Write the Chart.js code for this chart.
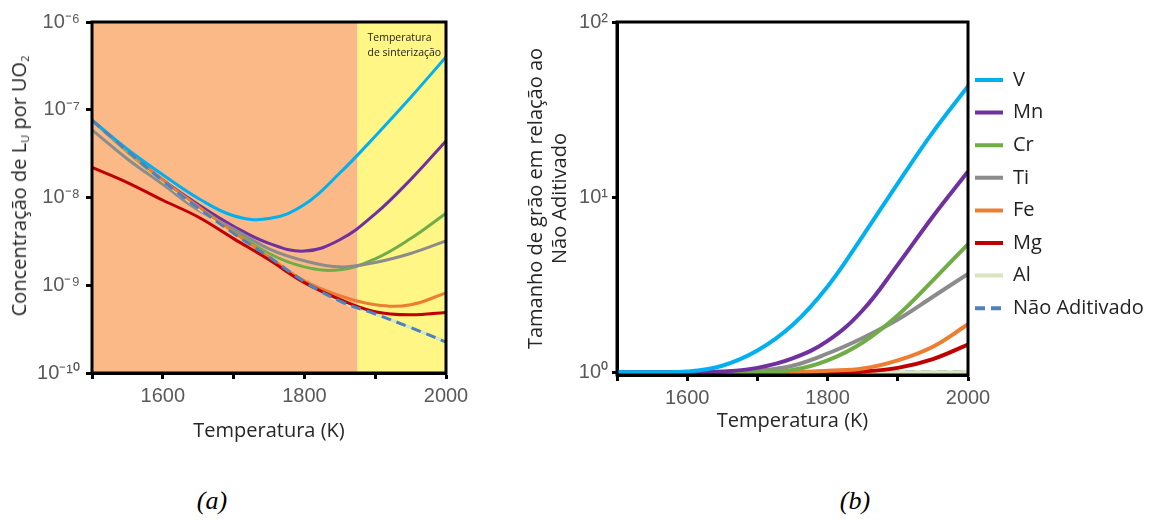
<!DOCTYPE html>
<html><head><meta charset="utf-8">
<script src="https://cdn.jsdelivr.net/npm/chart.js@4.4.0/dist/chart.umd.min.js"></script>
<style>
html,body{margin:0;padding:0;background:#fff;width:1155px;height:520px;overflow:hidden;position:relative;}
#ca{position:absolute;left:0;top:0;}
#cb{position:absolute;left:490px;top:0;}
.ytitle{position:absolute;left:22px;top:186px;transform:translate(-50%,-50%) rotate(-90deg);white-space:nowrap;font:20px "Open Sans";color:#262626;line-height:24px;}
.ytitle sub{font-size:11px;vertical-align:-3px;}
.cap{position:absolute;top:486px;font:italic 26px "Liberation Serif";color:#000;transform:translateX(-50%);}
</style></head><body>
<canvas id="ca" width="476" height="460"></canvas>
<canvas id="cb" width="665" height="460"></canvas>
<div class="ytitle">Concentração de L<sub>U</sub> por UO<sub>2</sub></div>
<div class="cap" style="left:212px">(a)</div>
<div class="cap" style="left:855px">(b)</div>
<script>
// ---------------- DATA ----------------
const temperatures = [1500, 1550, 1600, 1650, 1700, 1750, 1800, 1850, 1900, 1950, 2000];
const sinteringStart = 1875;
const sinteringLabel = ['Temperatura', 'de sinterização'];

const xTickValues = [1500, 1600, 1700, 1800, 1900, 2000];
const xTickLabels = ['', '1600', '', '1800', '', '2000'];
const yTickValuesA = [1e-10, 1e-9, 1e-8, 1e-7, 1e-6];
const yTickLabelsA = ['10⁻¹⁰', '10⁻⁹', '10⁻⁸', '10⁻⁷', '10⁻⁶'];
const yTickValuesB = [1, 10, 100];
const yTickLabelsB = ['10⁰', '10¹', '10²'];

const seriesNames = ['V', 'Mn', 'Cr', 'Ti', 'Fe', 'Mg', 'Al', 'Não Aditivado'];

// (a) Concentração de L_U por UO2
const luV  = [7.6e-8, 3.55e-8, 1.82e-8, 9.8e-9, 6.2e-9, 5.75e-9, 8.3e-9, 1.9e-8, 5.0e-8, 1.38e-7, 4.0e-7];
const luMn = [7.6e-8, 3.4e-8, 1.58e-8, 8.3e-9, 4.7e-9, 3.0e-9, 2.45e-9, 3.3e-9, 6.5e-9, 1.6e-8, 4.4e-8];
const luCr = [7.6e-8, 3.3e-8, 1.55e-8, 7.8e-9, 4.2e-9, 2.3e-9, 1.62e-9, 1.5e-9, 2.0e-9, 3.4e-9, 6.6e-9];
const luTi = [5.9e-8, 2.75e-8, 1.41e-8, 7.2e-9, 4.4e-9, 2.6e-9, 1.9e-9, 1.62e-9, 1.82e-9, 2.3e-9, 3.2e-9];
const luFe = [7.6e-8, 3.4e-8, 1.58e-8, 7.9e-9, 4.0e-9, 2.1e-9, 1.12e-9, 7.6e-10, 6.0e-10, 6.0e-10, 8.2e-10];
const luMg = [2.2e-8, 1.48e-8, 9.3e-9, 6.0e-9, 3.4e-9, 1.95e-9, 1.07e-9, 6.9e-10, 5.0e-10, 4.6e-10, 4.9e-10];
const luAl = [7.6e-8, 3.4e-8, 1.55e-8, 7.6e-9, 3.9e-9, 2.1e-9, 1.1e-9, 6.6e-10, 4.7e-10, 3.3e-10, 2.25e-10];
const luNA = [7.6e-8, 3.4e-8, 1.55e-8, 7.6e-9, 3.9e-9, 2.1e-9, 1.1e-9, 6.6e-10, 4.7e-10, 3.3e-10, 2.25e-10];

// (b) Tamanho de grão em relação ao Não Aditivado
const grainV  = [1.0, 1.0, 1.01, 1.09, 1.33, 1.86, 3.09, 6.0, 12.0, 23.5, 43];
const grainMn = [1.0, 1.0, 1.0, 1.01, 1.06, 1.2, 1.51, 2.26, 4.12, 7.76, 14];
const grainCr = [1.0, 1.0, 1.0, 1.0, 1.0, 1.03, 1.17, 1.48, 2.12, 3.35, 5.4];
const grainTi = [1.0, 1.0, 1.0, 1.0, 1.02, 1.09, 1.28, 1.57, 2.0, 2.7, 3.65];
const grainFe = [1.0, 1.0, 1.0, 1.0, 1.0, 1.0, 1.02, 1.05, 1.17, 1.4, 1.88];
const grainMg = [1.0, 1.0, 1.0, 1.0, 1.0, 1.0, 1.0, 1.01, 1.06, 1.19, 1.44];
const grainAl = [1.0, 1.0, 1.0, 1.0, 1.0, 1.0, 1.0, 1.0, 1.0, 1.0, 1.0];
const grainNA = [1.0, 1.0, 1.0, 1.0, 1.0, 1.0, 1.0, 1.0, 1.0, 1.0, 1.0];

// ---------------- STYLE ----------------
const COLORS = { V:'#00B0F0', Mn:'#7030A0', Cr:'#70AD47', Ti:'#8C8C8C', Fe:'#ED7D31', Mg:'#C00000', Al:'#D7E4BD', NA:'#4F81BD' };
const TICK_FONT = { family: 'Liberation Sans', size: 20 };
const TITLE_FONT = { family: 'Open Sans', size: 20, lineHeight: 1.2 };
const TICK_COLOR = '#595959';
const TEXT_COLOR = '#262626';

const toXY = arr => temperatures.map((t, i) => ({ x: t, y: arr[i] }));
function ds(label, arr, color, width, dash) {
  return {
    label, data: toXY(arr), borderColor: color, backgroundColor: color,
    borderWidth: width, borderDash: dash || [], pointRadius: 0, pointHoverRadius: 0,
    tension: 0.4, fill: false
  };
}

function xScale(titlePadBottom, boxHeight) {
  return {
    type: 'linear', min: 1500, max: 2000,
    afterBuildTicks: s => { s.ticks = xTickValues.map(v => ({ value: v })); },
    afterFit: s => { s.height = boxHeight; },
    ticks: { callback: (v, i) => xTickLabels[i], font: TICK_FONT, color: TICK_COLOR, padding: 5, autoSkip: false, maxRotation: 0 },
    grid: { drawOnChartArea: false, drawTicks: true, tickLength: 6, tickWidth: 3, tickColor: '#000' },
    border: { display: true, color: '#000', width: 3 },
    title: { display: true, text: 'Temperatura (K)', font: TITLE_FONT, color: TEXT_COLOR, padding: { top: 0, bottom: titlePadBottom } }
  };
}

const framePlugin = {
  id: 'frame',
  afterDraw(chart) {
    const { ctx, chartArea: a } = chart;
    ctx.save();
    ctx.strokeStyle = '#000';
    ctx.lineWidth = 3;
    ctx.strokeRect(a.left, a.top, a.right - a.left, a.bottom - a.top);
    ctx.restore();
  }
};

const zonesPlugin = {
  id: 'zones',
  beforeDatasetsDraw(chart) {
    const { ctx, chartArea: a, scales: { x } } = chart;
    const xs = x.getPixelForValue(sinteringStart);
    ctx.save();
    ctx.fillStyle = '#FAB987';
    ctx.fillRect(a.left, a.top, xs - a.left, a.bottom - a.top);
    ctx.fillStyle = '#FFF685';
    ctx.fillRect(xs, a.top, a.right - xs, a.bottom - a.top);
    ctx.fillStyle = '#222';
    ctx.font = '10.5px "Open Sans"';
    ctx.textBaseline = 'alphabetic';
    sinteringLabel.forEach((t, i) => ctx.fillText(t, xs + 10, a.top + 19 + i * 15));
    ctx.restore();
  }
};

// ---------------- CHART (a) ----------------
new Chart(document.getElementById('ca'), {
  type: 'line',
  data: {
    datasets: [
      ds('Não Aditivado', luNA, COLORS.NA, 3, [10, 6]),
      ds('V', luV, COLORS.V, 3),
      ds('Mg', luMg, COLORS.Mg, 3),
      ds('Fe', luFe, COLORS.Fe, 3),
      ds('Al', luAl, COLORS.Al, 3),
      ds('Ti', luTi, COLORS.Ti, 3),
      ds('Cr', luCr, COLORS.Cr, 3),
      ds('Mn', luMn, COLORS.Mn, 3)
    ]
  },
  options: {
    responsive: false, animation: false, events: [],
    layout: { padding: { top: 22, right: 30, bottom: 0, left: 0 } },
    plugins: { legend: { display: false }, tooltip: { enabled: false } },
    scales: {
      x: xScale(17, 87),
      y: {
        type: 'logarithmic', min: 1e-10, max: 1e-6,
        afterBuildTicks: s => { s.ticks = yTickValuesA.map(v => ({ value: v })); },
        afterFit: s => { s.width = 92; },
        ticks: { callback: (v, i) => yTickLabelsA[i], font: TICK_FONT, color: TICK_COLOR, padding: 6, autoSkip: false },
        grid: { drawOnChartArea: false, drawTicks: true, tickLength: 6, tickWidth: 3, tickColor: '#000' },
        border: { display: true, color: '#000', width: 3 },
        title: { display: false }
      }
    }
  },
  plugins: [zonesPlugin, framePlugin]
});

// ---------------- CHART (b) ----------------
const legendPlacePlugin = {
  id: 'legendPlace',
  afterLayout(chart) {
    const L = chart.legend;
    if (!L) return;
    const w = L.width, h = L.height;
    L.left = 472.4; L.right = L.left + w;
    L.top = 57.4; L.bottom = L.top + h;
  }
};

new Chart(document.getElementById('cb'), {
  type: 'line',
  data: {
    datasets: [
      ds(seriesNames[0], grainV, COLORS.V, 4),
      ds(seriesNames[1], grainMn, COLORS.Mn, 4),
      ds(seriesNames[2], grainCr, COLORS.Cr, 4),
      ds(seriesNames[3], grainTi, COLORS.Ti, 4),
      ds(seriesNames[4], grainFe, COLORS.Fe, 4),
      ds(seriesNames[5], grainMg, COLORS.Mg, 4),
      ds(seriesNames[6], grainAl, COLORS.Al, 4),
      ds(seriesNames[7], grainNA, COLORS.NA, 4, [10, 6])
    ]
  },
  options: {
    responsive: false, animation: false, events: [],
    layout: { padding: { top: 22, right: 0, bottom: 0, left: 0 } },
    plugins: {
      tooltip: { enabled: false },
      legend: {
        position: 'right', align: 'start', fullSize: false, maxWidth: 187,
        labels: {
          usePointStyle: true, pointStyle: 'line', pointStyleWidth: 28, boxWidth: 28,
          padding: 12.6, color: '#222', font: { family: 'Open Sans', size: 20 },
          generateLabels(chart) {
            const items = Chart.defaults.plugins.legend.labels.generateLabels(chart);
            items.forEach(it => {
              const d = chart.data.datasets[it.datasetIndex];
              it.lineWidth = d.borderWidth;
              it.lineDash = d.borderDash || [];
              it.strokeStyle = d.borderColor;
              it.pointStyle = 'line';
              it.lineCap = 'butt';
            });
            return items;
          }
        }
      }
    },
    scales: {
      x: xScale(27, 85),
      y: {
        type: 'logarithmic', min: 0.965, max: 100,
        afterBuildTicks: s => { s.ticks = yTickValuesB.map(v => ({ value: v })); },
        afterFit: s => { s.width = 127; },
        ticks: { callback: (v, i) => yTickLabelsB[i], font: TICK_FONT, color: TICK_COLOR, padding: 4, autoSkip: false },
        grid: { drawOnChartArea: false, drawTicks: true, tickLength: 5, tickWidth: 3, tickColor: '#000' },
        border: { display: true, color: '#000', width: 3 },
        title: { display: true, text: ['Tamanho de grão em relação ao', 'Não Aditivado'], font: TITLE_FONT, color: TEXT_COLOR, padding: { top: 34, bottom: 0 } }
      }
    }
  },
  plugins: [legendPlacePlugin, framePlugin]
});
</script>
</body></html>
